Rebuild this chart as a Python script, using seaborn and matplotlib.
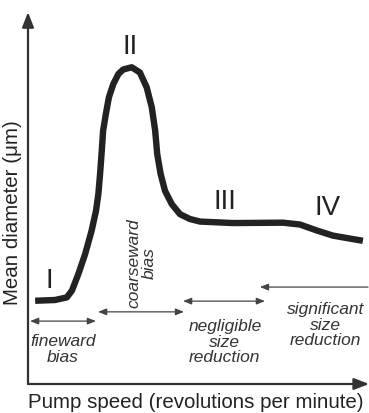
import matplotlib
matplotlib.use("Agg")
import matplotlib.pyplot as plt
import seaborn as sns
import pandas as pd

# schematic curve (arbitrary units, 0-100 on both axes)
pump_speed = [2.1, 7.9, 11.4, 12.9, 14.8, 16.8, 18.7, 20.0, 20.7, 21.2, 21.7,
              22.1, 22.9, 23.8, 25.1, 26.6, 28.0, 30.5, 32.9, 34.9, 36.4, 37.4,
              38.0, 39.0, 40.3, 42.3, 44.7, 47.6, 50.6, 60.3, 75.0, 80.0, 84.9,
              89.7, 94.7, 98.5]
mean_diameter = [22.5, 22.7, 23.4, 25.2, 29.7, 35.1, 41.4, 46.8, 51.4, 56.8, 63.1,
                 68.5, 73.0, 77.5, 81.1, 83.8, 85.0, 85.6, 84.2, 80.2, 74.8, 68.5,
                 62.2, 56.8, 52.2, 48.6, 45.9, 44.6, 43.9, 43.5, 43.6, 43.1, 41.5,
                 40.1, 39.3, 38.7]

stage_labels = ["I", "II", "III", "IV"]
stage_x = [6.2, 30.0, 57.9, 88.2]
stage_y = [28.1, 91.4, 49.5, 47.8]

regime_labels = ["fineward\nbias", "coarseward\nbias",
                 "negligible\nsize\nreduction", "significant\nsize\nreduction"]
regime_x = [10.3, 33.5, 57.9, 87.4]
regime_y = [9.6, 33.0, 11.6, 16.2]
regime_rot = [0, 90, 0, 0]

# range arrows: start, end, height, two-headed?
range_start = [0.6, 20.6, 45.6, 100.0]
range_end = [20.0, 45.9, 69.7, 68.2]
range_y = [17.0, 19.5, 22.4, 26.2]
range_double = [True, True, True, False]

sns.set_style("white")
plt.rcParams['font.family'] = ['Liberation Sans', 'DejaVu Sans']

fig = plt.figure(figsize=(3.69, 4.14), dpi=100)
ax = fig.add_axes([28 / 369, (414 - 385) / 414, 340 / 369, 370 / 414])
ax.set_xlim(0, 100)
ax.set_ylim(0, 100)
ax.axis("off")

df = pd.DataFrame({"speed": pump_speed, "diam": mean_diameter})
sns.lineplot(data=df, x="speed", y="diam", sort=False, ax=ax,
             color="#222222", lw=4.6, solid_capstyle="butt", solid_joinstyle="round")

# axes as arrows
axis_kw = dict(arrowstyle="-|>,head_length=0.9,head_width=0.35", color="#333333", lw=1.6,
               shrinkA=0, shrinkB=0)
ax.annotate("", xy=(0, 100.5), xytext=(0, 0), arrowprops=axis_kw, annotation_clip=False)
ax.annotate("", xy=(100.3, 0), xytext=(0, 0), arrowprops=axis_kw, annotation_clip=False)

for lab, x, y in zip(stage_labels, stage_x, stage_y):
    ax.text(x, y, lab, ha="center", va="center", fontsize=20, color="#222222")

for lab, x, y, r in zip(regime_labels, regime_x, regime_y, regime_rot):
    ax.text(x, y, lab, ha="center", va="center", fontsize=12.5, style="italic",
            rotation=r, color="#333333", linespacing=1.05)

for x0, x1, y, dbl in zip(range_start, range_end, range_y, range_double):
    style = "<|-|>" if dbl else "-|>"
    ax.annotate("", xy=(x1, y), xytext=(x0, y), annotation_clip=False,
                arrowprops=dict(arrowstyle=style + ",head_length=0.5,head_width=0.2",
                                color="#444444", lw=0.9, shrinkA=0, shrinkB=0))

fig.text(196 / 369, 1 - 403 / 414, "Pump speed (revolutions per minute)",
         ha="center", va="center", fontsize=14.8, color="#222222")
fig.text(13 / 369, 1 - 213 / 414, "Mean diameter (\u03bcm)", rotation=90,
         ha="center", va="center", fontsize=14.8, color="#222222")

fig.savefig("out.png", dpi=100)
